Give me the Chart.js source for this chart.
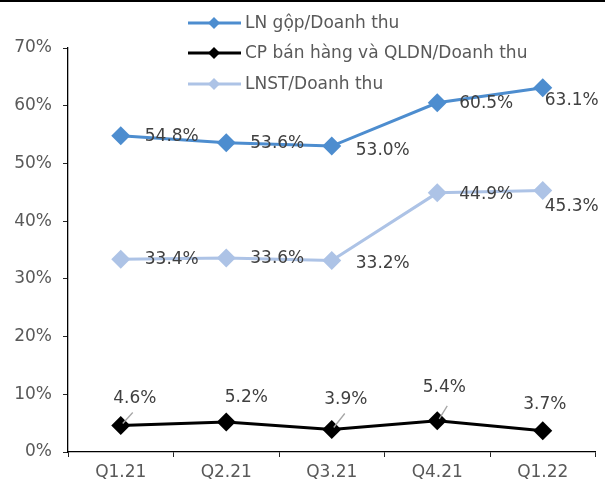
<!DOCTYPE html>
<html>
<head>
<meta charset="utf-8">
<script src="https://cdn.jsdelivr.net/npm/chart.js@4.4.1/dist/chart.umd.min.js"></script>
<style>
  html, body { margin: 0; padding: 0; background: #fff; }
  #wrap { width: 605px; height: 484px; }
</style>
</head>
<body>
<div id="wrap"><canvas id="c" width="605" height="484"></canvas></div>
<script>
// Quarterly ratios (% of revenue)
const quarters = ['Q1.21', 'Q2.21', 'Q3.21', 'Q4.21', 'Q1.22'];
const grossMargin = [54.8, 53.6, 53.0, 60.5, 63.1];      // LN gộp/Doanh thu
const sellingAdmin = [4.6, 5.2, 3.9, 5.4, 3.7];          // CP bán hàng và QLDN/Doanh thu
const netMargin = [33.4, 33.6, 33.2, 44.9, 45.3];        // LNST/Doanh thu
const seriesNames = ['LN gộp/Doanh thu', 'CP bán hàng và QLDN/Doanh thu', 'LNST/Doanh thu'];
const yTicks = [0, 10, 20, 30, 40, 50, 60, 70];

const FONT = '"DejaVu Sans", Verdana, sans-serif';
const colors = ['#4d8dcf', '#000000', '#adc3e6'];

// Label placement per series: 'right' = left-aligned beside the marker,
// 'above' = centred over the marker. Nudges are [dx, dy] in pixels.
const labelMode = ['right', 'above', 'right'];
const labelNudge = [
  [[24, 1], [24, 1], [24, 4], [22, 1], [2, 13]],
  [[14, -27], [20, -24], [14, -30], [7, -33], [2, -26]],
  [[24, 0], [24, 0], [24, 3], [22, 2], [2, 16]]
];
// short grey leader lines for some of the cost labels: [dx1, dy1, dx2, dy2] from the marker
const leaders = [null, [[2, -2, 12, -13], null, [2, -2, 13, -16], [2, -2, 10, -15], null], null];

const overlay = {
  id: 'overlay',
  afterDatasetsDraw(chart) {
    const ctx = chart.ctx;
    ctx.save();
    chart.data.datasets.forEach((ds, i) => {
      const meta = chart.getDatasetMeta(i);
      meta.data.forEach((pt, j) => {
        const lead = leaders[i] && leaders[i][j];
        if (lead) {
          ctx.strokeStyle = '#a6a6a6';
          ctx.lineWidth = 1.3;
          ctx.beginPath();
          ctx.moveTo(pt.x + lead[0], pt.y + lead[1]);
          ctx.lineTo(pt.x + lead[2], pt.y + lead[3]);
          ctx.stroke();
        }
        const txt = ds.data[j].toFixed(1) + '%';
        const [dx, dy] = labelNudge[i][j];
        ctx.font = '17px ' + FONT;
        ctx.fillStyle = '#404040';
        ctx.textBaseline = 'middle';
        ctx.textAlign = labelMode[i] === 'right' ? 'left' : 'center';
        ctx.fillText(txt, pt.x + dx, pt.y + dy);
      });
    });
    ctx.restore();
  },
  afterDraw(chart) {
    const ctx = chart.ctx;
    ctx.save();
    // top rule
    ctx.fillStyle = '#000';
    ctx.fillRect(0, 0, chart.width, 2);
    // legend
    const rows = [23, 53, 84];
    chart.data.datasets.forEach((ds, i) => {
      const y = rows[i];
      ctx.strokeStyle = ds.borderColor;
      ctx.lineWidth = 3;
      ctx.beginPath();
      ctx.moveTo(188, y);
      ctx.lineTo(241, y);
      ctx.stroke();
      ctx.fillStyle = ds.backgroundColor;
      const r = 6;
      ctx.beginPath();
      ctx.moveTo(214, y - r);
      ctx.lineTo(214 + r, y);
      ctx.lineTo(214, y + r);
      ctx.lineTo(214 - r, y);
      ctx.closePath();
      ctx.fill();
      ctx.font = '17px ' + FONT;
      ctx.fillStyle = '#595959';
      ctx.textAlign = 'left';
      ctx.textBaseline = 'middle';
      ctx.fillText(ds.label, 245, y + 1);
    });
    ctx.restore();
  }
};

const series = [grossMargin, sellingAdmin, netMargin];
new Chart(document.getElementById('c'), {
  type: 'line',
  data: {
    labels: quarters,
    datasets: series.map((vals, i) => ({
      label: seriesNames[i],
      data: vals,
      borderColor: colors[i],
      backgroundColor: colors[i],
      borderWidth: 3,
      pointStyle: 'rectRot',
      pointRadius: 9.5,
      pointBorderWidth: 0,
      tension: 0,
      clip: false
    }))
  },
  options: {
    responsive: false,
    devicePixelRatio: 1,
    animation: false,
    layout: { padding: { top: 48, right: 5, left: 0, bottom: 0 } },
    plugins: { legend: { display: false }, tooltip: { enabled: false } },
    scales: {
      x: {
        offset: true,
        grid: { offset: true, drawOnChartArea: false, drawTicks: true, tickLength: 5, color: '#262626', lineWidth: 1 },
        border: { display: true, color: '#000', width: 1.3 },
        ticks: { color: '#595959', font: { family: FONT, size: 17 }, padding: 5, maxRotation: 0 },
        afterFit(s) { s.height = 32; }
      },
      y: {
        min: yTicks[0],
        max: yTicks[yTicks.length - 1],
        afterBuildTicks(s) { s.ticks = yTicks.map(v => ({ value: v })); },
        grid: { drawOnChartArea: false, drawTicks: true, tickLength: 5, color: '#262626', lineWidth: 1 },
        border: { display: true, color: '#000', width: 1.3 },
        ticks: { color: '#595959', font: { family: FONT, size: 17 }, padding: 11, callback: v => v + '%' },
        afterFit(s) { s.width = 68; }
      }
    }
  },
  plugins: [overlay]
});
</script>
</body>
</html>
